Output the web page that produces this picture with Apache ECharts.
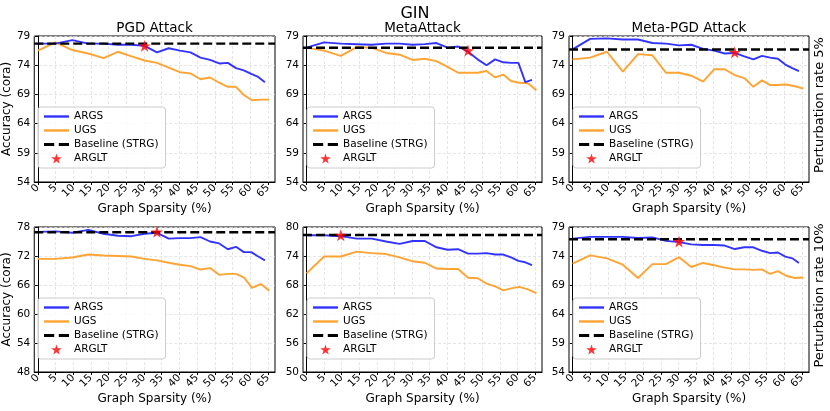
<!DOCTYPE html>
<html>
<head>
<meta charset="utf-8">
<script src="https://cdn.jsdelivr.net/npm/echarts@6/dist/echarts.min.js"></script>
<style>
  html, body { margin: 0; padding: 0; background: #fff; }
  #chart { width: 830px; height: 411px; }
</style>
</head>
<body>
<div id="chart"></div>
<script>
// sparsity levels (%) of the pruning rounds
const argsSparsity = [0, 5, 9.75, 14.26, 18.55, 22.62, 26.49, 30.17, 33.66, 36.98, 40.13, 43.12, 45.96, 48.67, 51.23, 53.67, 55.99, 58.19, 60.28, 62.26, 64.15];
const ugsSparsity = [0, 5, 9.75, 14.26, 18.55, 22.62, 26.49, 30.17, 33.66, 36.98, 40.13, 43.12, 45.96, 48.67, 51.23, 53.67, 55.99, 58.19, 60.5, 63, 65.4];

// perturbation rate 5%
const pgd5Args = [77.7, 77.7, 78.3, 77.7, 77.7, 77.5, 77.5, 77.3, 76.2, 76.9, 76.5, 76.2, 75.3, 74.9, 74.3, 74.4, 73.5, 73.1, 72.5, 72.0, 71.1];
const pgd5Ugs = [76.5, 77.9, 76.6, 76.0, 75.2, 76.3, 75.5, 74.8, 74.4, 73.6, 72.8, 72.6, 71.6, 71.9, 71.0, 70.3, 70.3, 68.9, 68.0, 68.1, 68.1];
const meta5Args = [77.0, 77.9, 77.7, 77.6, 77.5, 77.7, 77.7, 77.5, 77.6, 77.8, 77.0, 77.2, 76.3, 75.0, 74.0, 75.0, 74.5, 74.4, 74.4, 71.1, 71.5];
const meta5Ugs = [77.0, 76.5, 75.6, 77.1, 77.0, 76.1, 75.8, 74.9, 75.1, 74.7, 73.7, 72.7, 72.7, 72.7, 73.0, 71.9, 72.4, 71.3, 71.0, 70.9, 69.7];
const mpgd5Args = [76.7, 78.5, 78.6, 78.4, 78.4, 77.8, 77.7, 77.4, 77.5, 76.8, 76.5, 76.0, 76.1, 75.5, 75.0, 75.6, 75.3, 75.1, 74.1, 73.5, 73.0];
const mpgd5Ugs = [75.0, 75.3, 76.3, 72.9, 75.9, 75.7, 72.7, 72.7, 72.2, 71.2, 73.3, 73.3, 72.3, 71.8, 70.3, 71.4, 70.6, 70.6, 70.7, 70.4, 70.0];

// perturbation rate 10%
const pgd10Args = [77.0, 77.1, 76.8, 77.4, 76.6, 76.2, 76.1, 76.6, 76.8, 75.6, 75.7, 75.7, 75.9, 75.0, 74.6, 73.4, 73.9, 72.8, 72.8, 71.9, 71.1];
const pgd10Ugs = [71.4, 71.4, 71.7, 72.3, 72.1, 72.0, 71.9, 71.4, 71.1, 70.6, 70.2, 69.9, 69.2, 69.5, 68.1, 68.3, 68.3, 67.6, 65.4, 66.2, 64.8];
const meta10Args = [78.3, 78.3, 78.1, 77.6, 77.6, 77.0, 76.5, 77.1, 77.1, 75.8, 75.3, 75.4, 74.5, 74.5, 74.6, 74.3, 74.3, 73.7, 73.0, 72.7, 72.1];
const meta10Ugs = [70.4, 73.9, 73.9, 74.9, 74.6, 74.4, 73.7, 72.9, 72.6, 71.4, 71.3, 71.3, 69.5, 69.4, 68.3, 67.7, 66.9, 67.3, 67.6, 67.1, 66.3];
const mpgd10Args = [77.0, 77.3, 77.3, 77.3, 77.1, 77.2, 76.6, 76.4, 76.0, 75.9, 75.9, 75.8, 75.2, 75.5, 75.5, 74.9, 74.5, 74.6, 73.9, 73.6, 72.8];
const mpgd10Ugs = [72.7, 74.1, 73.6, 72.5, 70.2, 72.6, 72.6, 73.8, 72.1, 72.8, 72.4, 72.0, 71.7, 71.7, 71.6, 71.7, 70.9, 71.4, 70.6, 70.2, 70.3];

// baseline (STRG) accuracy and ARGLT points per panel
const baselines = [77.7, 77.0, 76.7, 76.9, 78.35, 76.9];
const argltPoints = [[30.17, 77.3], [45.96, 76.5], [45.96, 76.2], [33.66, 77.0], [9.75, 78.3], [30.17, 76.5]];

// tick labels
const xTicks = [0, 5, 10, 15, 20, 25, 30, 35, 40, 45, 50, 55, 60, 65];
const yTicks5 = [54, 59, 64, 69, 74, 79];
const yTicksPgd10 = [48, 54, 60, 66, 72, 78];
const yTicksMeta10 = [50, 56, 62, 68, 74, 80];

const attackTitles = ['PGD Attack', 'MetaAttack', 'Meta-PGD Attack'];
const rateLabels = ['Perturbation rate 5%', 'Perturbation rate 10%'];

const panels = [
  { args: pgd5Args, ugs: pgd5Ugs, yTicks: yTicks5 },
  { args: meta5Args, ugs: meta5Ugs, yTicks: yTicks5 },
  { args: mpgd5Args, ugs: mpgd5Ugs, yTicks: yTicks5 },
  { args: pgd10Args, ugs: pgd10Ugs, yTicks: yTicksPgd10 },
  { args: meta10Args, ugs: meta10Ugs, yTicks: yTicksMeta10 },
  { args: mpgd10Args, ugs: mpgd10Ugs, yTicks: yTicks5 }
];

const X_MIN = -1, X_MAX = 67;
const FONT = 'DejaVu Sans';
const BLUE = '#3333ff', ORANGE = '#ffa333';
const STAR = 'path://M50,0 L61.2,34.5 L97.6,34.5 L68.2,55.9 L79.4,90.5 L50,69.1 L20.6,90.5 L31.8,55.9 L2.4,34.5 L38.8,34.5 Z';
// legend handles: solid and dashed strokes
const SOLID_ICON = 'path://M0,0 L25,0 L25,2.4 L0,2.4 Z';
const DASH_ICON = 'path://M0,0 L10,0 L10,2.8 L0,2.8 Z M14.5,0 L24.5,0 L24.5,2.8 L14.5,2.8 Z';

// layout of the 2x3 grid (px)
const colLeft = [34, 303, 569];
const colWidth = [241, 239, 240];
const rowTop = [36, 227];
const rowHeight = [146, 145];

const zip = (xs, ys) => ys.map((y, i) => [xs[i], y]);

const grids = [], xAxes = [], yAxes = [], series = [], legends = [], graphics = [];

panels.forEach((p, i) => {
  const row = Math.floor(i / 3), col = i % 3;
  grids.push({
    left: colLeft[col], top: rowTop[row], width: colWidth[col], height: rowHeight[row],
    show: true, borderColor: '#000', borderWidth: 1, backgroundColor: 'transparent'
  });
  xAxes.push({
    type: 'value', gridIndex: i, min: X_MIN, max: X_MAX,
    name: 'Graph Sparsity (%)', nameLocation: 'middle', nameGap: 21,
    nameTextStyle: { fontFamily: FONT, fontSize: 12, color: '#000' },
    axisLine: { show: true, lineStyle: { color: '#000', width: 1 } },
    axisTick: { show: true, customValues: xTicks, length: 3, lineStyle: { color: '#000' } },
    axisLabel: { customValues: xTicks, rotate: 45, fontFamily: FONT, fontSize: 10.5, color: '#000', margin: 4 },
    splitLine: { show: true, lineStyle: { color: '#dedede', type: [3, 2], width: 0.8 } }
  });
  const yt = p.yTicks;
  yAxes.push({
    type: 'value', gridIndex: i, min: yt[0], max: yt[yt.length - 1], interval: yt[1] - yt[0],
    name: col === 0 ? 'Accuracy (cora)' : '', nameLocation: 'middle', nameGap: 18,
    nameTextStyle: { fontFamily: FONT, fontSize: 12, color: '#000' },
    axisLine: { show: true, lineStyle: { color: '#000', width: 1 } },
    axisTick: { show: true, customValues: yt, length: 3, lineStyle: { color: '#000' } },
    axisLabel: { customValues: yt, fontFamily: FONT, fontSize: 10.5, color: '#000', margin: 4 },
    splitLine: { show: true, lineStyle: { color: '#dedede', type: [3, 2], width: 0.8 } }
  });

  series.push({
    name: 'ARGS', type: 'line', xAxisIndex: i, yAxisIndex: i,
    data: zip(argsSparsity, p.args), symbol: 'none', z: 3,
    lineStyle: { color: BLUE, width: 1.9 }, itemStyle: { color: BLUE }
  });
  series.push({
    name: 'UGS', type: 'line', xAxisIndex: i, yAxisIndex: i,
    data: zip(ugsSparsity, p.ugs), symbol: 'none', z: 2,
    lineStyle: { color: ORANGE, width: 1.9 }, itemStyle: { color: ORANGE }
  });
  series.push({
    name: 'Baseline (STRG)', type: 'line', xAxisIndex: i, yAxisIndex: i,
    data: [[X_MIN, baselines[i]], [X_MAX, baselines[i]]], symbol: 'none', z: 4,
    lineStyle: { color: '#000', width: 2.4, type: [9, 4] }, itemStyle: { color: '#000' }
  });
  series.push({
    name: 'ARGLT', type: 'scatter', xAxisIndex: i, yAxisIndex: i,
    data: [argltPoints[i]], symbol: STAR, symbolSize: 12, z: 5,
    itemStyle: { color: '#ff0000' }
  });

  legends.push({
    data: [
      { name: 'ARGS', icon: SOLID_ICON },
      { name: 'UGS', icon: SOLID_ICON },
      { name: 'Baseline (STRG)', icon: DASH_ICON },
      { name: 'ARGLT', icon: STAR }
    ],
    orient: 'vertical', left: colLeft[col] + 4, top: rowTop[row] + 71,
    itemWidth: 25, itemHeight: 10, itemGap: 3, padding: [4, 7, 4, 6],
    symbolKeepAspect: true,
    borderColor: '#cccccc', borderWidth: 1, borderRadius: 3,
    backgroundColor: 'rgba(255,255,255,0.8)',
    textStyle: { fontFamily: FONT, fontSize: 10.5, color: '#000' },
    selectedMode: false
  });

  if (row === 0) {
    graphics.push({
      type: 'text', x: colLeft[col] + colWidth[col] / 2, y: 28,
      style: { text: attackTitles[col], font: '13.5px ' + FONT, fill: '#000', textAlign: 'center', textVerticalAlign: 'middle' }
    });
  }
  if (col === 2) {
    graphics.push({
      type: 'text', x: 820, y: rowTop[row] + rowHeight[row] / 2 - 4, rotation: Math.PI / 2,
      style: { text: rateLabels[row], font: '13px ' + FONT, fill: '#000', textAlign: 'center', textVerticalAlign: 'middle' }
    });
  }
});

const chart = echarts.init(document.getElementById('chart'), null, { renderer: 'canvas' });
chart.setOption({
  animation: false,
  backgroundColor: '#fff',
  title: {
    text: 'GIN', left: 'center', top: 1,
    textStyle: { fontFamily: FONT, fontSize: 16, fontWeight: 'normal', color: '#000' }
  },
  grid: grids,
  xAxis: xAxes,
  yAxis: yAxes,
  legend: legends,
  series: series,
  graphic: graphics
});
</script>
</body>
</html>
